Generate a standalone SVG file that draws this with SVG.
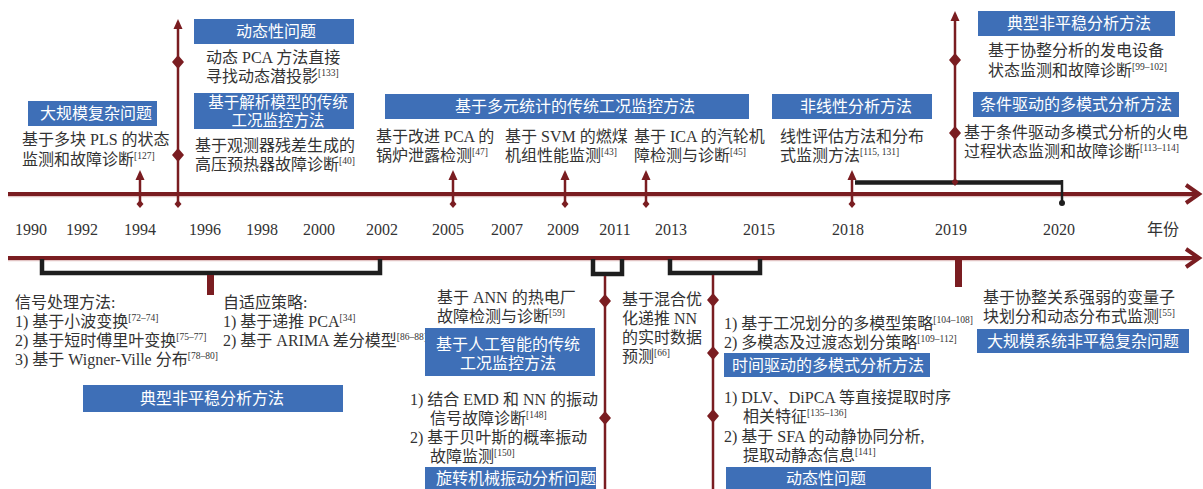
<svg xmlns="http://www.w3.org/2000/svg" xmlns:xlink="http://www.w3.org/1999/xlink" width="1203" height="489" viewBox="0 0 1203 489">
<style>
.t{font-family:"Liberation Serif","Noto Sans CJK SC",serif;font-size:16px;fill:#333}
.yr{font-family:"Liberation Serif","Noto Sans CJK SC",serif;font-size:16px;fill:#333;text-anchor:middle}
.bx{fill:#3e6fb7}
.bt{font-family:"Liberation Sans","Noto Sans CJK SC",sans-serif;font-size:16px;fill:#fff;text-anchor:middle}
.sup{font-size:9.5px}
.red{stroke:#7a1d21;fill:none}
.rf{fill:#7a1d21}
.blk{stroke:#1e1e1e;fill:none;stroke-width:4.5}
</style>
<defs>
<path id="dia" d="M0,-7 L6,0 L0,7 L-6,0Z" fill="#7a1d21"/>
<path id="sdia" d="M0,-4 L3.5,0 L0,4 L-3.5,0Z" fill="#7a1d21"/>
<path id="ahead" d="M0,0 L-4.5,10 L4.5,10Z" fill="#7a1d21"/>
</defs>

<g id="connectors">
  <line x1="8" y1="196.5" x2="1194" y2="196.5" stroke="#e2c4c4" stroke-width="1.5"/>
  <line class="red" x1="8" y1="194" x2="1197" y2="194" stroke-width="4"/>
  <polyline class="red" points="1186,185 1199,194 1186,203" stroke-width="4"/>
  <line x1="8" y1="260.5" x2="1194" y2="260.5" stroke="#e2c4c4" stroke-width="1.5"/>
  <line class="red" x1="8" y1="258" x2="1197" y2="258" stroke-width="4"/>
  <polyline class="red" points="1186,249 1199,258 1186,267" stroke-width="4"/>

  <line class="red" x1="140" y1="176" x2="140" y2="204" stroke-width="2.5"/>
  <use xlink:href="#ahead" x="140" y="170"/><use xlink:href="#sdia" x="140" y="204"/>
  <line class="red" x1="178" y1="26" x2="178" y2="204" stroke-width="2.5"/>
  <use xlink:href="#ahead" x="178" y="19"/><use xlink:href="#dia" x="178" y="62"/><use xlink:href="#dia" x="178" y="155"/><use xlink:href="#sdia" x="178" y="204"/>
  <line class="red" x1="453" y1="176" x2="453" y2="204" stroke-width="2.5"/>
  <use xlink:href="#ahead" x="453" y="170"/><use xlink:href="#sdia" x="453" y="204"/>
  <line class="red" x1="565" y1="176" x2="565" y2="204" stroke-width="2.5"/>
  <use xlink:href="#ahead" x="565" y="170"/><use xlink:href="#sdia" x="565" y="204"/>
  <line class="red" x1="646" y1="176" x2="646" y2="204" stroke-width="2.5"/>
  <use xlink:href="#ahead" x="646" y="170"/><use xlink:href="#sdia" x="646" y="204"/>
  <line class="red" x1="852" y1="176" x2="852" y2="204" stroke-width="2.5"/>
  <use xlink:href="#ahead" x="852" y="170"/><use xlink:href="#sdia" x="852" y="204"/>
  <line class="blk" x1="855" y1="182.5" x2="1062" y2="182.5" stroke-width="5"/>
  <line x1="1062" y1="180" x2="1062" y2="202" stroke="#1e1e1e" stroke-width="2.5"/>
  <circle cx="1062" cy="203" r="3" fill="#1e1e1e"/>
  <line class="red" x1="955" y1="18" x2="955" y2="182" stroke-width="2.5"/>
  <use xlink:href="#ahead" x="955" y="11"/><use xlink:href="#dia" x="955" y="60"/><use xlink:href="#dia" x="955" y="133"/><use xlink:href="#sdia" x="955" y="182"/>

  <path class="blk" d="M42,259 V273 H380 V259"/>
  <rect class="rf" x="207" y="275" width="7" height="20"/>
  <path class="blk" d="M593,259 V274 H622 V259"/>
  <line class="red" x1="605" y1="276" x2="605" y2="489" stroke-width="2.5"/>
  <use xlink:href="#dia" x="605" y="301"/><use xlink:href="#dia" x="605" y="418"/>
  <path class="blk" d="M670,259 V273 H760 V259"/>
  <line class="red" x1="713" y1="275" x2="713" y2="489" stroke-width="2.5"/>
  <use xlink:href="#dia" x="713" y="300"/><use xlink:href="#dia" x="713" y="353"/><use xlink:href="#dia" x="713" y="416"/>
  <rect class="rf" x="955" y="258" width="7" height="29"/>
</g>

<g id="years">
  <text class="yr" x="31" y="235">1990</text>
  <text class="yr" x="82" y="235">1992</text>
  <text class="yr" x="140" y="235">1994</text>
  <text class="yr" x="205" y="235">1996</text>
  <text class="yr" x="262" y="235">1998</text>
  <text class="yr" x="319" y="235">2000</text>
  <text class="yr" x="382" y="235">2002</text>
  <text class="yr" x="448" y="235">2005</text>
  <text class="yr" x="507" y="235">2007</text>
  <text class="yr" x="563" y="235">2009</text>
  <text class="yr" x="615" y="235">2011</text>
  <text class="yr" x="671" y="235">2013</text>
  <text class="yr" x="759" y="235">2015</text>
  <text class="yr" x="848" y="235">2018</text>
  <text class="yr" x="951" y="235">2019</text>
  <text class="yr" x="1059" y="235">2020</text>
  <text class="t" x="1147" y="235">年份</text>
</g>

<g id="n-large-scale-1994">
  <rect class="bx" x="28" y="101" width="129" height="25"/>
  <text class="bt" x="96" y="119">大规模复杂问题</text>
  <text class="t"><tspan x="22" y="145">基于多块 PLS 的状态</tspan><tspan x="22" y="165">监测和故障诊断</tspan><tspan class="sup" dy="-6">[127]</tspan></text>
</g>
<g id="n-dynamic-1995">
  <rect class="bx" x="194" y="19" width="160" height="25"/>
  <text class="bt" x="276" y="37">动态性问题</text>
  <text class="t"><tspan x="206" y="63">动态 PCA 方法直接</tspan><tspan x="206" y="82">寻找动态潜投影</tspan><tspan class="sup" dy="-6">[133]</tspan></text>
</g>
<g id="n-analytic-1995">
  <rect class="bx" x="194" y="93" width="160" height="36"/>
  <text class="bt" style="font-size:15.5px"><tspan x="278" y="108">基于解析模型的传统</tspan><tspan x="278" y="126">工况监控方法</tspan></text>
  <text class="t"><tspan x="195" y="151">基于观测器残差生成的</tspan><tspan x="195" y="170">高压预热器故障诊断</tspan><tspan class="sup" dy="-6">[40]</tspan></text>
</g>
<g id="n-multivariate">
  <rect class="bx" x="385" y="94" width="364" height="25"/>
  <text class="bt" x="575" y="112">基于多元统计的传统工况监控方法</text>
</g>
<g id="n-2005">
  <text class="t"><tspan x="376" y="142">基于改进 PCA 的</tspan><tspan x="376" y="161">锅炉泄露检测</tspan><tspan class="sup" dy="-6">[47]</tspan></text>
</g>
<g id="n-2009">
  <text class="t"><tspan x="505" y="142">基于 SVM 的燃煤</tspan><tspan x="505" y="161">机组性能监测</tspan><tspan class="sup" dy="-6">[43]</tspan></text>
</g>
<g id="n-2012">
  <text class="t"><tspan x="634" y="142">基于 ICA 的汽轮机</tspan><tspan x="634" y="161">障检测与诊断</tspan><tspan class="sup" dy="-6">[45]</tspan></text>
</g>
<g id="n-nonlinear-2018">
  <rect class="bx" x="772" y="94" width="160" height="25"/>
  <text class="bt" x="856" y="112">非线性分析方法</text>
  <text class="t"><tspan x="780" y="142">线性评估方法和分布</tspan><tspan x="780" y="161">式监测方法</tspan><tspan class="sup" dy="-6">[115, 131]</tspan></text>
</g>
<g id="n-nonstationary-2019">
  <rect class="bx" x="978" y="11" width="197" height="25"/>
  <text class="bt" x="1079" y="29">典型非平稳分析方法</text>
  <text class="t"><tspan x="988" y="56">基于协整分析的发电设备</tspan><tspan x="988" y="76">状态监测和故障诊断</tspan><tspan class="sup" dy="-6">[99–102]</tspan></text>
</g>
<g id="n-condition-2019">
  <rect class="bx" x="973" y="92" width="206" height="25"/>
  <text class="bt" x="1076" y="110">条件驱动的多模式分析方法</text>
  <text class="t"><tspan x="964" y="138">基于条件驱动多模式分析的火电</tspan><tspan x="964" y="157">过程状态监测和故障诊断</tspan><tspan class="sup" dy="-6">[113–114]</tspan></text>
</g>

<g id="n-typical-nonstationary">
  <text class="t"><tspan x="15" y="308">信号处理方法:</tspan><tspan x="15" y="327">1) 基于小波变换</tspan><tspan class="sup" dy="-6">[72–74]</tspan><tspan x="15" y="346">2) 基于短时傅里叶变换</tspan><tspan class="sup" dy="-6">[75–77]</tspan><tspan x="15" y="365">3) 基于 Wigner-Ville 分布</tspan><tspan class="sup" dy="-6">[78–80]</tspan></text>
  <text class="t"><tspan x="223" y="308">自适应策略:</tspan><tspan x="223" y="327">1) 基于递推 PCA</tspan><tspan class="sup" dy="-6">[34]</tspan><tspan x="223" y="346">2) 基于 ARIMA 差分模型</tspan><tspan class="sup" dy="-6">[86–88]</tspan></text>
  <rect class="bx" x="83" y="385" width="260" height="27"/>
  <text class="bt" x="212" y="404">典型非平稳分析方法</text>
</g>
<g id="n-ai">
  <text class="t"><tspan x="437" y="303">基于 ANN 的热电厂</tspan><tspan x="437" y="322">故障检测与诊断</tspan><tspan class="sup" dy="-6">[59]</tspan></text>
  <rect class="bx" x="425" y="328" width="170" height="48"/>
  <text class="bt"><tspan x="508" y="350">基于人工智能的传统</tspan><tspan x="508" y="369">工况监控方法</tspan></text>
</g>
<g id="n-rotating">
  <text class="t"><tspan x="410" y="405">1) 结合 EMD 和 NN 的振动</tspan><tspan x="430" y="424">信号故障诊断</tspan><tspan class="sup" dy="-6">[148]</tspan><tspan x="410" y="443">2) 基于贝叶斯的概率振动</tspan><tspan x="430" y="462">故障监测</tspan><tspan class="sup" dy="-6">[150]</tspan></text>
  <rect class="bx" x="425" y="467" width="171" height="30"/>
  <text class="bt" x="516" y="484">旋转机械振动分析问题</text>
</g>
<g id="n-hybrid-nn">
  <text class="t"><tspan x="622" y="305">基于混合优</tspan><tspan x="622" y="324">化递推 NN</tspan><tspan x="622" y="343">的实时数据</tspan><tspan x="622" y="362">预测</tspan><tspan class="sup" dy="-6">[66]</tspan></text>
</g>
<g id="n-time-driven">
  <text class="t"><tspan x="724" y="329">1) 基于工况划分的多模型策略</tspan><tspan class="sup" dy="-6">[104–108]</tspan><tspan x="724" y="348">2) 多模态及过渡态划分策略</tspan><tspan class="sup" dy="-6">[109–112]</tspan></text>
  <rect class="bx" x="724" y="353" width="206" height="24"/>
  <text class="bt" x="828" y="371">时间驱动的多模式分析方法</text>
</g>
<g id="n-dynamic-bottom">
  <text class="t"><tspan x="724" y="403">1) DLV、DiPCA 等直接提取时序</tspan><tspan x="743" y="422">相关特征</tspan><tspan class="sup" dy="-6">[135–136]</tspan><tspan x="724" y="442">2) 基于 SFA 的动静协同分析,</tspan><tspan x="743" y="461">提取动静态信息</tspan><tspan class="sup" dy="-6">[141]</tspan></text>
  <rect class="bx" x="726" y="467" width="205" height="30"/>
  <text class="bt" x="826" y="484">动态性问题</text>
</g>
<g id="n-large-scale-2019">
  <text class="t"><tspan x="983" y="303">基于协整关系强弱的变量子</tspan><tspan x="983" y="322">块划分和动态分布式监测</tspan><tspan class="sup" dy="-6">[55]</tspan></text>
  <rect class="bx" x="977" y="329" width="212" height="24"/>
  <text class="bt" x="1083" y="347">大规模系统非平稳复杂问题</text>
</g>
</svg>
